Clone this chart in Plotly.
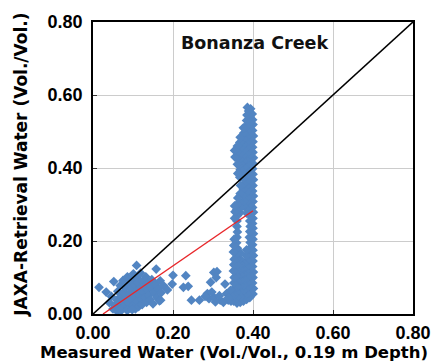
import plotly.graph_objects as go

# ---- data ----
cluster_low = [
    (0.015, 0.073), (0.033, 0.060), (0.041, 0.031), (0.046, 0.048), (0.052, 0.089),
    (0.050, 0.014), (0.055, 0.024), (0.058, 0.010), (0.060, 0.038), (0.062, 0.062),
    (0.064, 0.017), (0.067, 0.029), (0.068, 0.078), (0.070, 0.047), (0.072, 0.011),
    (0.074, 0.036), (0.075, 0.092), (0.077, 0.060), (0.079, 0.022), (0.081, 0.071),
    (0.083, 0.013), (0.084, 0.043), (0.086, 0.102), (0.088, 0.030), (0.089, 0.083),
    (0.091, 0.055), (0.093, 0.016), (0.095, 0.067), (0.096, 0.040), (0.098, 0.094),
    (0.100, 0.024), (0.101, 0.110), (0.103, 0.050), (0.104, 0.078), (0.106, 0.014),
    (0.107, 0.062), (0.109, 0.133), (0.110, 0.035), (0.111, 0.098), (0.113, 0.086),
    (0.114, 0.020), (0.116, 0.052), (0.117, 0.070), (0.119, 0.112), (0.121, 0.041),
    (0.123, 0.026), (0.124, 0.090), (0.126, 0.060), (0.128, 0.077), (0.130, 0.046),
    (0.132, 0.102), (0.134, 0.032), (0.136, 0.066), (0.138, 0.085), (0.140, 0.051),
    (0.143, 0.039), (0.145, 0.072), (0.147, 0.094), (0.150, 0.028), (0.152, 0.058),
    (0.155, 0.082), (0.158, 0.123), (0.160, 0.045), (0.163, 0.068), (0.166, 0.036),
    (0.168, 0.091), (0.170, 0.058), (0.176, 0.078), (0.062, 0.009), (0.068, 0.012),
    (0.086, 0.010), (0.098, 0.012),
]

scatter_mid = [
    (0.169, 0.038), (0.186, 0.066), (0.198, 0.082), (0.200, 0.106), (0.226, 0.073),
    (0.232, 0.105), (0.238, 0.076), (0.246, 0.038), (0.266, 0.038), (0.286, 0.056),
    (0.290, 0.042), (0.294, 0.087), (0.302, 0.114), (0.310, 0.116), (0.308, 0.100),
    (0.302, 0.046), (0.306, 0.033), (0.318, 0.038), (0.330, 0.082), (0.334, 0.056),
    (0.338, 0.038), (0.297, 0.060), (0.316, 0.050), (0.326, 0.032), (0.280, 0.048),
]

column_upper = [
    # x = 0.400
    (0.400, 0.262), (0.401, 0.279), (0.399, 0.292), (0.400, 0.308), (0.401, 0.323),
    (0.399, 0.337), (0.400, 0.352), (0.401, 0.368), (0.400, 0.383), (0.399, 0.398),
    (0.400, 0.412), (0.401, 0.428), (0.400, 0.443), (0.399, 0.457), (0.400, 0.472),
    (0.401, 0.488), (0.399, 0.503), (0.400, 0.519), (0.399, 0.532),
    # x = 0.392
    (0.392, 0.255), (0.393, 0.270), (0.391, 0.286), (0.392, 0.300), (0.393, 0.315),
    (0.391, 0.330), (0.392, 0.345), (0.393, 0.360), (0.391, 0.375), (0.392, 0.390),
    (0.393, 0.405), (0.391, 0.420), (0.392, 0.435), (0.393, 0.450), (0.391, 0.465),
    (0.392, 0.480), (0.393, 0.495), (0.391, 0.510), (0.392, 0.525), (0.393, 0.540),
    (0.392, 0.553),
    # x = 0.384
    (0.385, 0.276), (0.383, 0.290), (0.384, 0.306), (0.385, 0.320),
    (0.383, 0.334), (0.384, 0.350), (0.385, 0.364), (0.383, 0.380), (0.384, 0.394),
    (0.385, 0.410), (0.383, 0.424), (0.384, 0.440), (0.385, 0.455), (0.383, 0.470),
    (0.384, 0.485), (0.385, 0.500), (0.383, 0.515), (0.384, 0.530), (0.385, 0.545),
    (0.386, 0.566),
    # x = 0.376
    (0.376, 0.296), (0.377, 0.310), (0.375, 0.326),
    (0.376, 0.342), (0.377, 0.356), (0.375, 0.372), (0.376, 0.388), (0.377, 0.402),
    (0.375, 0.418), (0.376, 0.434), (0.377, 0.450), (0.375, 0.464), (0.376, 0.480),
    (0.377, 0.496), (0.376, 0.510),
    # x = 0.368
    (0.368, 0.278), (0.369, 0.292), (0.367, 0.306), (0.368, 0.330), (0.369, 0.352),
    (0.367, 0.375), (0.368, 0.395),
    (0.369, 0.410), (0.367, 0.425), (0.368, 0.440), (0.369, 0.455), (0.367, 0.470),
    (0.368, 0.484),
    # x = 0.360
    (0.360, 0.255), (0.361, 0.270), (0.359, 0.285), (0.360, 0.300), (0.361, 0.410),
    (0.359, 0.428), (0.360, 0.445), (0.361, 0.460), (0.362, 0.318), (0.362, 0.385),
    # x = 0.354 and top
    (0.354, 0.262), (0.355, 0.280), (0.354, 0.296), (0.355, 0.430), (0.354, 0.448),
    (0.394, 0.562), (0.398, 0.548), (0.389, 0.556),
]

column_lower = [
    # x = 0.400
    (0.400, 0.055), (0.401, 0.070), (0.399, 0.085), (0.400, 0.100), (0.401, 0.115),
    (0.399, 0.130), (0.400, 0.145), (0.401, 0.160), (0.400, 0.175), (0.399, 0.190),
    (0.400, 0.205), (0.401, 0.220), (0.400, 0.235), (0.399, 0.248),
    # x = 0.392
    (0.392, 0.045), (0.393, 0.060), (0.391, 0.076), (0.392, 0.090), (0.393, 0.106),
    (0.391, 0.120), (0.392, 0.136), (0.393, 0.150), (0.391, 0.166), (0.392, 0.180),
    (0.393, 0.196), (0.391, 0.210), (0.392, 0.226), (0.393, 0.240),
    # x = 0.384
    (0.384, 0.040), (0.385, 0.056), (0.383, 0.070), (0.384, 0.086), (0.385, 0.100),
    (0.383, 0.116), (0.384, 0.130), (0.385, 0.146), (0.383, 0.160), (0.384, 0.176),
    # x = 0.376
    (0.376, 0.035), (0.377, 0.050), (0.375, 0.065), (0.376, 0.080), (0.377, 0.095),
    (0.375, 0.110), (0.376, 0.125), (0.377, 0.140),
    # x = 0.368
    (0.368, 0.032), (0.369, 0.046), (0.367, 0.062), (0.368, 0.078), (0.369, 0.092),
    (0.367, 0.108), (0.368, 0.122), (0.369, 0.138), (0.367, 0.152), (0.368, 0.168),
    # x = 0.360
    (0.360, 0.030), (0.361, 0.045), (0.359, 0.060), (0.360, 0.075), (0.361, 0.090),
    (0.359, 0.105), (0.360, 0.120), (0.361, 0.135), (0.359, 0.150), (0.360, 0.165),
    (0.361, 0.180), (0.359, 0.195), (0.360, 0.210), (0.361, 0.225), (0.360, 0.240),
    # x = 0.352
    (0.352, 0.035), (0.353, 0.050), (0.351, 0.068), (0.352, 0.085), (0.353, 0.100),
    (0.351, 0.118), (0.352, 0.135), (0.353, 0.150), (0.351, 0.170), (0.352, 0.188),
    (0.353, 0.205),
    # bottom edge
    (0.345, 0.035), (0.346, 0.050), (0.344, 0.065), (0.338, 0.044),
]

one_to_one_x = [0.0, 0.8]
one_to_one_y = [0.0, 0.8]
fit_x = [0.025, 0.400]
fit_y = [0.000, 0.283]

tick_vals = [0.0, 0.2, 0.4, 0.6, 0.8]
tick_text = ["0.00", "0.20", "0.40", "0.60", "0.80"]

points = cluster_low + scatter_mid + column_upper + column_lower
px = [p[0] for p in points]
py = [p[1] for p in points]

FONT = "Liberation Sans, Arial, sans-serif"
TFONT = "DejaVu Sans, sans-serif"
BLUE = "#5285C2"

fig = go.Figure()
fig.add_trace(go.Scatter(
    x=px, y=py, mode="markers",
    marker=dict(symbol="diamond", size=7.5, color=BLUE, line=dict(width=0)),
    showlegend=False, hoverinfo="skip",
))
fig.add_trace(go.Scatter(
    x=one_to_one_x, y=one_to_one_y, mode="lines",
    line=dict(color="black", width=1.6), showlegend=False,
))
fig.add_trace(go.Scatter(
    x=fit_x, y=fit_y, mode="lines",
    line=dict(color="#E8262A", width=1.4), showlegend=False,
))

axis_common = dict(
    range=[0, 0.8], tickvals=tick_vals, ticktext=tick_text,
    showgrid=True, gridcolor="#CCCCCC", gridwidth=1,
    zeroline=False, showline=True, linecolor="black", linewidth=1.5, mirror=True,
    ticks="inside", ticklen=4, tickcolor="#333333",
    tickfont=dict(family=FONT, size=18, color="black", weight="bold"),
    fixedrange=True,
)

fig.update_layout(
    width=443, height=362,
    margin=dict(l=93, r=18, t=16, b=48),
    paper_bgcolor="white", plot_bgcolor="white",
    xaxis=dict(**axis_common, ticklabelstandoff=2),
    yaxis=dict(**axis_common, ticklabelstandoff=5),
    annotations=[
        dict(text="Bonanza Creek", x=0.506, y=0.9295, xref="paper", yref="paper",
             showarrow=False, xanchor="center", yanchor="middle",
             font=dict(family=TFONT, size=17.5, color="#111111", weight="bold")),
        dict(text="Measured Water (Vol./Vol., 0.19 m Depth)", x=0.44, y=-0.132,
             xref="paper", yref="paper", showarrow=False, xanchor="center", yanchor="middle",
             font=dict(family=TFONT, size=16.5, color="black", weight="bold")),
        dict(text="JAXA-Retrieval Water (Vol./Vol.)", x=-0.226, y=0.51,
             xref="paper", yref="paper", showarrow=False, xanchor="center", yanchor="middle",
             textangle=-90,
             font=dict(family=TFONT, size=17, color="black", weight="bold")),
    ],
)

fig.write_html("out.html", config={"displayModeBar": False})
